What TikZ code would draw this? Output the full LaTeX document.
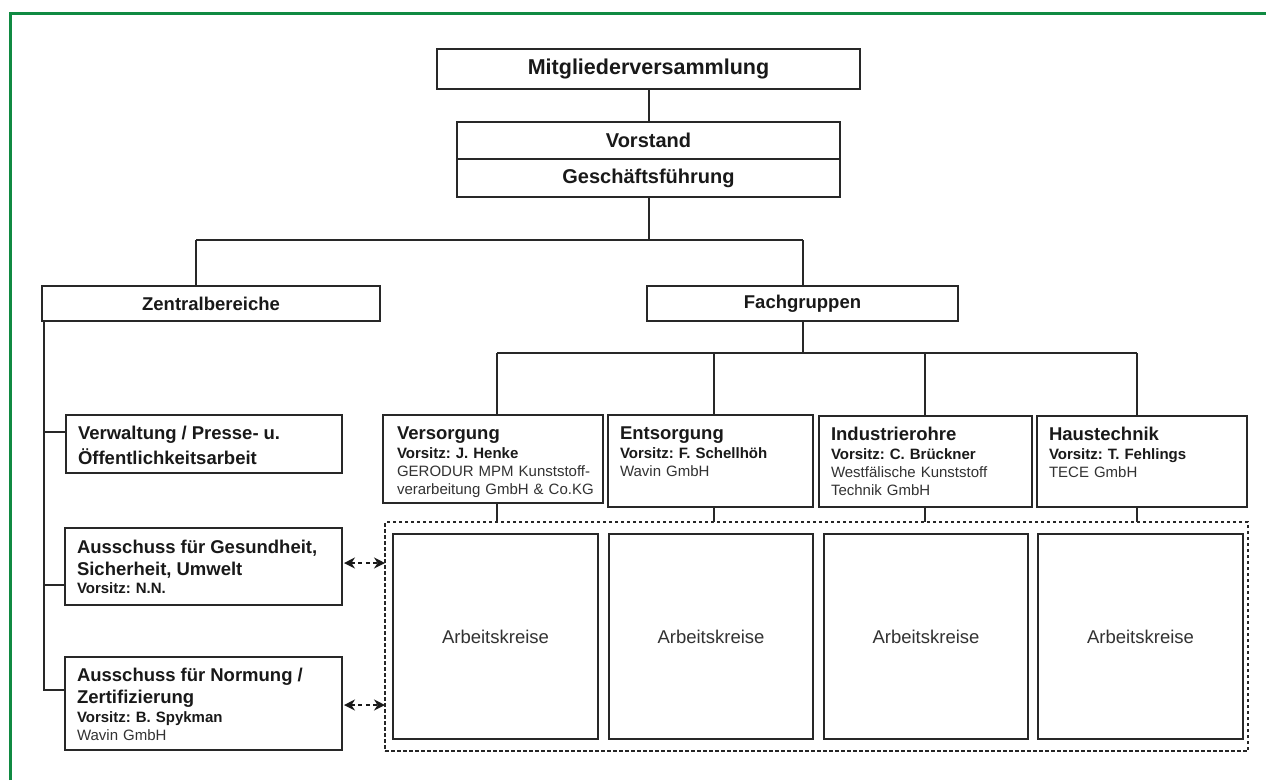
\documentclass[tikz,border=0pt]{standalone}
\usepackage{fontspec}
\setmainfont{Liberation Sans}
\usetikzlibrary{arrows.meta,calc}
\definecolor{frameGreen}{RGB}{16,138,66}
\definecolor{ink}{RGB}{40,40,40}
\definecolor{txt}{RGB}{25,25,25}
\definecolor{txtlight}{RGB}{50,50,50}
\newcommand{\ttlfont}{\fontsize{18.5}{22}\selectfont\bfseries}
\newcommand{\bigfont}{\fontsize{20}{22}\selectfont\bfseries}
\newcommand{\subfont}{\fontsize{15}{18}\selectfont\bfseries}
\newcommand{\regfont}{\fontsize{15}{18}\selectfont}
\frenchspacing
\begin{document}
\frenchspacing
\begin{tikzpicture}[x=1pt,y=-1pt,
  box/.style={draw=ink,line width=2.2pt,fill=white,anchor=north west,inner sep=0pt,outer sep=0pt},
  conn/.style={draw=ink,line width=2pt},
  ttl/.style={font=\ttlfont,text=txt},
  lbl/.style={anchor=north west,inner sep=0pt,outer sep=0pt,align=left,text=txt,font=\regfont},
  akbox/.style={box,font=\fontsize{18.5}{22}\selectfont,text=txtlight,minimum height=205pt},
  region/.style={draw=black!85,line width=2pt,dash pattern=on 3.5pt off 2.5pt,anchor=north west,inner sep=0pt,outer sep=0pt},
  darrow/.style={draw=black!90,line width=1.6pt,dash pattern=on 4pt off 3.5pt,{Stealth[length=11pt,width=11pt]}-{Stealth[length=11pt,width=11pt]}}
]
\useasboundingbox (0,0) rectangle (1266,780);
\fill[white] (0,0) rectangle (1266,780);
\draw[frameGreen,line width=3pt] (10,780) -- (10,13) -- (1266,13);

% top levels
\node[box,font=\fontsize{21.5}{24}\selectfont\bfseries,text=txt,minimum width=423pt,minimum height=40pt] (mv) at (437,49) {Mitgliederversammlung};
\node[box,font=\bigfont,text=txt,minimum width=383pt,minimum height=37pt] (vs) at (457,122) {Vorstand};
\node[box,font=\bigfont,text=txt,minimum width=383pt,minimum height=38pt] (gf) at (457,159) {Geschäftsführung};
\node[box,ttl,minimum width=338pt,minimum height=35pt] (zb) at (42,286) {Zentralbereiche};
\node[box,ttl,minimum width=311pt,minimum height=35pt] (fg) at (647,286) {Fachgruppen};

\draw[conn] (mv.south) -- (vs.north);
\coordinate (bL) at (196,240);
\coordinate (bR) at (fg.north |- bL);
\draw[conn] (gf.south) -- (gf.south |- bL);
\draw[conn] (bL) -- (bR);
\draw[conn] (bL) -- (bL |- zb.north);
\draw[conn] (bR) -- (fg.north);

% Zentralbereiche children
\node[box,minimum width=276pt,minimum height=58pt] (verw) at (66,415) {};
\node[lbl,text width=262pt] (verwT) at ($(verw.north west)+(12,11)$)
  {{\ttlfont Verwaltung / Presse- u.}\\[4pt]{\ttlfont Öffentlichkeitsarbeit}};
\node[box,minimum width=277pt,minimum height=77pt] (agsu) at (65,528) {};
\node[lbl,text width=262pt] (agsuT) at ($(agsu.north west)+(12,12)$)
  {{\ttlfont Ausschuss für Gesundheit,}\\[4pt]{\ttlfont Sicherheit, Umwelt}\\{\subfont Vorsitz: N.N.}};
\node[box,minimum width=277pt,minimum height=93pt] (anz) at (65,657) {};
\node[lbl,text width=262pt] (anzT) at ($(anz.north west)+(12,11)$)
  {{\ttlfont Ausschuss für Normung /}\\[4pt]{\ttlfont Zertifizierung}\\[1pt]{\subfont Vorsitz: B. Spykman}\\{\regfont\color{txtlight}Wavin GmbH}};

\coordinate (zt) at ($(zb.south west)+(2,0)$);
\coordinate (y1) at (0,432);
\coordinate (y2) at (0,585);
\coordinate (y3) at (0,690);
\draw[conn] (zt) -- (zt |- y3) -- (anz.west |- y3);
\draw[conn] (zt |- y1) -- (verw.west |- y1);
\draw[conn] (zt |- y2) -- (agsu.west |- y2);

% Fachgruppen children
\node[box,minimum width=220pt,minimum height=88pt] (fvers) at (383,415) {};
\node[lbl,text width=215pt] (fversT) at ($(fvers.north west)+(14,12)$)
  {{\ttlfont Versorgung}\\[1pt]{\subfont Vorsitz: J. Henke}\\{\color{txtlight}GERODUR MPM Kunststoff-}\\{\color{txtlight}verarbeitung GmbH \& Co.KG}};
\node[box,minimum width=205pt,minimum height=92pt] (fents) at (608,415) {};
\node[lbl,text width=200pt] (fentsT) at ($(fents.north west)+(12,12)$)
  {{\ttlfont Entsorgung}\\[1pt]{\subfont Vorsitz: F. Schellhöh}\\{\color{txtlight}Wavin GmbH}};
\node[box,minimum width=213pt,minimum height=91pt] (find) at (819,416) {};
\node[lbl,text width=205pt] (findT) at ($(find.north west)+(12,11)$)
  {{\ttlfont Industrierohre}\\[1pt]{\subfont Vorsitz: C. Brückner}\\{\color{txtlight}Westfälische Kunststoff}\\{\color{txtlight}Technik GmbH}};
\node[box,minimum width=210pt,minimum height=91pt] (fhaus) at (1037,416) {};
\node[lbl,text width=205pt] (fhausT) at ($(fhaus.north west)+(12,11)$)
  {{\ttlfont Haustechnik}\\[1pt]{\subfont Vorsitz: T. Fehlings}\\{\color{txtlight}TECE GmbH}};

% Arbeitskreise region
\node[region,minimum width=863pt,minimum height=229pt] (akreg) at (385,522) {};
\node[akbox,minimum width=205pt] (ak1) at (393,534) {Arbeitskreise};
\node[akbox,minimum width=204pt] (ak2) at (609,534) {Arbeitskreise};
\node[akbox,minimum width=204pt] (ak3) at (824,534) {Arbeitskreise};
\node[akbox,minimum width=205pt] (ak4) at (1038,534) {Arbeitskreise};

\coordinate (fb1) at (497,353);
\coordinate (fb2) at (714,353);
\coordinate (fb3) at (925,353);
\coordinate (fb4) at (1137,353);
\draw[conn] (fg.south) -- (fg.south |- fb1);
\draw[conn] (fb1) -- (fb4);
\draw[conn] (fb1) -- (fb1 |- fvers.north);
\draw[conn] (fb2) -- (fb2 |- fents.north);
\draw[conn] (fb3) -- (fb3 |- find.north);
\draw[conn] (fb4) -- (fb4 |- fhaus.north);
\draw[conn] (fb1 |- fvers.south) -- (fb1 |- akreg.north);
\draw[conn] (fb2 |- fents.south) -- (fb2 |- akreg.north);
\draw[conn] (fb3 |- find.south) -- (fb3 |- akreg.north);
\draw[conn] (fb4 |- fhaus.south) -- (fb4 |- akreg.north);

% dashed double arrows
\coordinate (a1) at (0,563);
\coordinate (a2) at (0,705);
\draw[darrow] ($(agsu.east |- a1)+(2,0)$) -- (akreg.west |- a1);
\draw[darrow] ($(anz.east |- a2)+(2,0)$) -- (akreg.west |- a2);
\end{tikzpicture}
\end{document}
